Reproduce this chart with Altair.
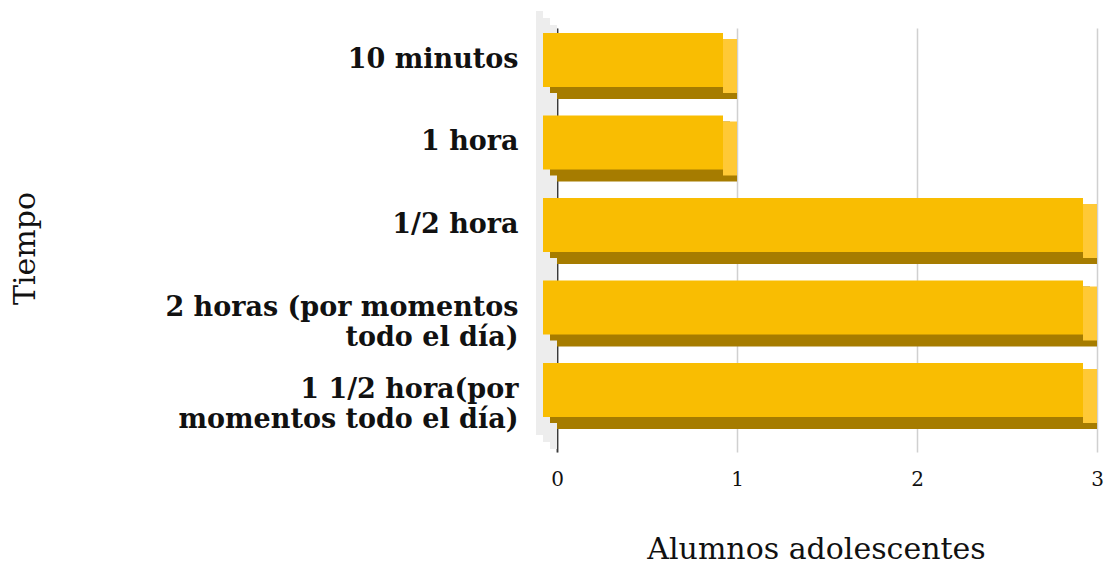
import json
import altair as alt
import pandas as pd

# ---- data ----
categorias = [
    "10 minutos",
    "1 hora",
    "1/2 hora",
    "2 horas (por momentos todo el día)",
    "1 1/2 hora(por momentos todo el día)",
]
valores = [1, 1, 3, 3, 3]
etiquetas = [
    ["10 minutos"],
    ["1 hora"],
    ["1/2 hora"],
    ["2 horas (por momentos", "todo el día)"],
    ["1 1/2 hora(por", "momentos todo el día)"],
]
x_ticks = [0, 1, 2, 3]
x_titulo = "Alumnos adolescentes"
y_titulo = "Tiempo"

df = pd.DataFrame({"cat": categorias, "valor": valores})
df_wall = pd.DataFrame({"v": [0]})

# label expression for multi-line category labels
expr = "datum.label"
for cat, lines in reversed(list(zip(categorias, etiquetas))):
    expr = f"datum.label == {json.dumps(cat, ensure_ascii=False)} ? {json.dumps(lines, ensure_ascii=False)} : " + expr

FONT = "DejaVu Serif"
FRONT = "#F9BD02"
BOTTOM = "#A67C00"
SIDE = "#FFC936"
WALL = "#EDEDED"

W, H = 540, 424

xscale = alt.Scale(domain=[0, 3], nice=False, zero=True)
yscale = alt.Scale(paddingInner=0.3455, paddingOuter=0.2424, align=0.425)

xaxis = alt.Axis(
    values=x_ticks, format="d", domain=False, ticks=False, tickSize=0,
    grid=True, gridColor="#D0D0D0", gridWidth=1.5,
    labelFont=FONT, labelFontSize=20, labelColor="#111111", labelFlush=False,
    labelBaseline="alphabetic", labelPadding=33,
    title=x_titulo, titleFont=FONT, titleFontSize=30, titleFontWeight="normal",
    titleColor="#111111", titleX=259, titleY=106, titleBaseline="alphabetic",
)
yaxis = alt.Axis(
    domain=True, domainColor="#3A3A3A", domainWidth=1.8,
    ticks=False, tickSize=0, grid=False,
    labelFont=FONT, labelFontSize=27, labelFontWeight="bold", labelColor="#111111",
    labelPadding=39, labelOffset=-12, labelLineHeight=30, labelLimit=520,
    labelExpr=expr,
    title=y_titulo, titleFont=FONT, titleFontSize=30, titleFontWeight="normal",
    titleColor="#111111", titleX=-517, titleY=220,
)

base = alt.Chart(df).encode(
    y=alt.Y("cat:N", sort=categorias, scale=yscale, axis=yaxis),
)

# side wall (floor) drawn as staircase of three slices
wall_layers = []
for (xo, x2o, yo) in [(-21, -14, -17), (-14, -7, -10), (-7, 0, -3)]:
    wall_layers.append(
        alt.Chart(df_wall).mark_rect(
            color=WALL, xOffset=xo, x2Offset=x2o, yOffset=yo, y2Offset=yo
        ).encode(
            x=alt.X("v:Q", scale=xscale, axis=xaxis),
            x2=alt.X2("v"),
            y=alt.value(0),
            y2=alt.value("height"),
        )
    )

back = base.mark_bar(color=BOTTOM).encode(
    x=alt.X("valor:Q", scale=xscale, axis=xaxis)
)
mid = base.mark_bar(color=BOTTOM, xOffset=-7, x2Offset=-7, yOffset=-6).encode(
    x=alt.X("valor:Q", scale=xscale, axis=xaxis)
)
side = base.mark_bar(color=SIDE, xOffset=-14, x2Offset=0, yOffset=-6).encode(
    x=alt.X("valor:Q", scale=xscale, axis=xaxis),
    x2=alt.X2("valor"),
)
front = base.mark_bar(color=FRONT, xOffset=-14, x2Offset=-14, yOffset=-12).encode(
    x=alt.X("valor:Q", scale=xscale, axis=xaxis)
)

chart = alt.layer(*wall_layers, back, mid, side, front).properties(
    width=W, height=H,
    autosize=alt.AutoSizeParams(type="none"),
    padding={"left": 549, "top": 20, "right": 10, "bottom": 114},
).configure_view(stroke=None)

chart.save("out.html", embed_options={"renderer": "svg", "actions": False})
